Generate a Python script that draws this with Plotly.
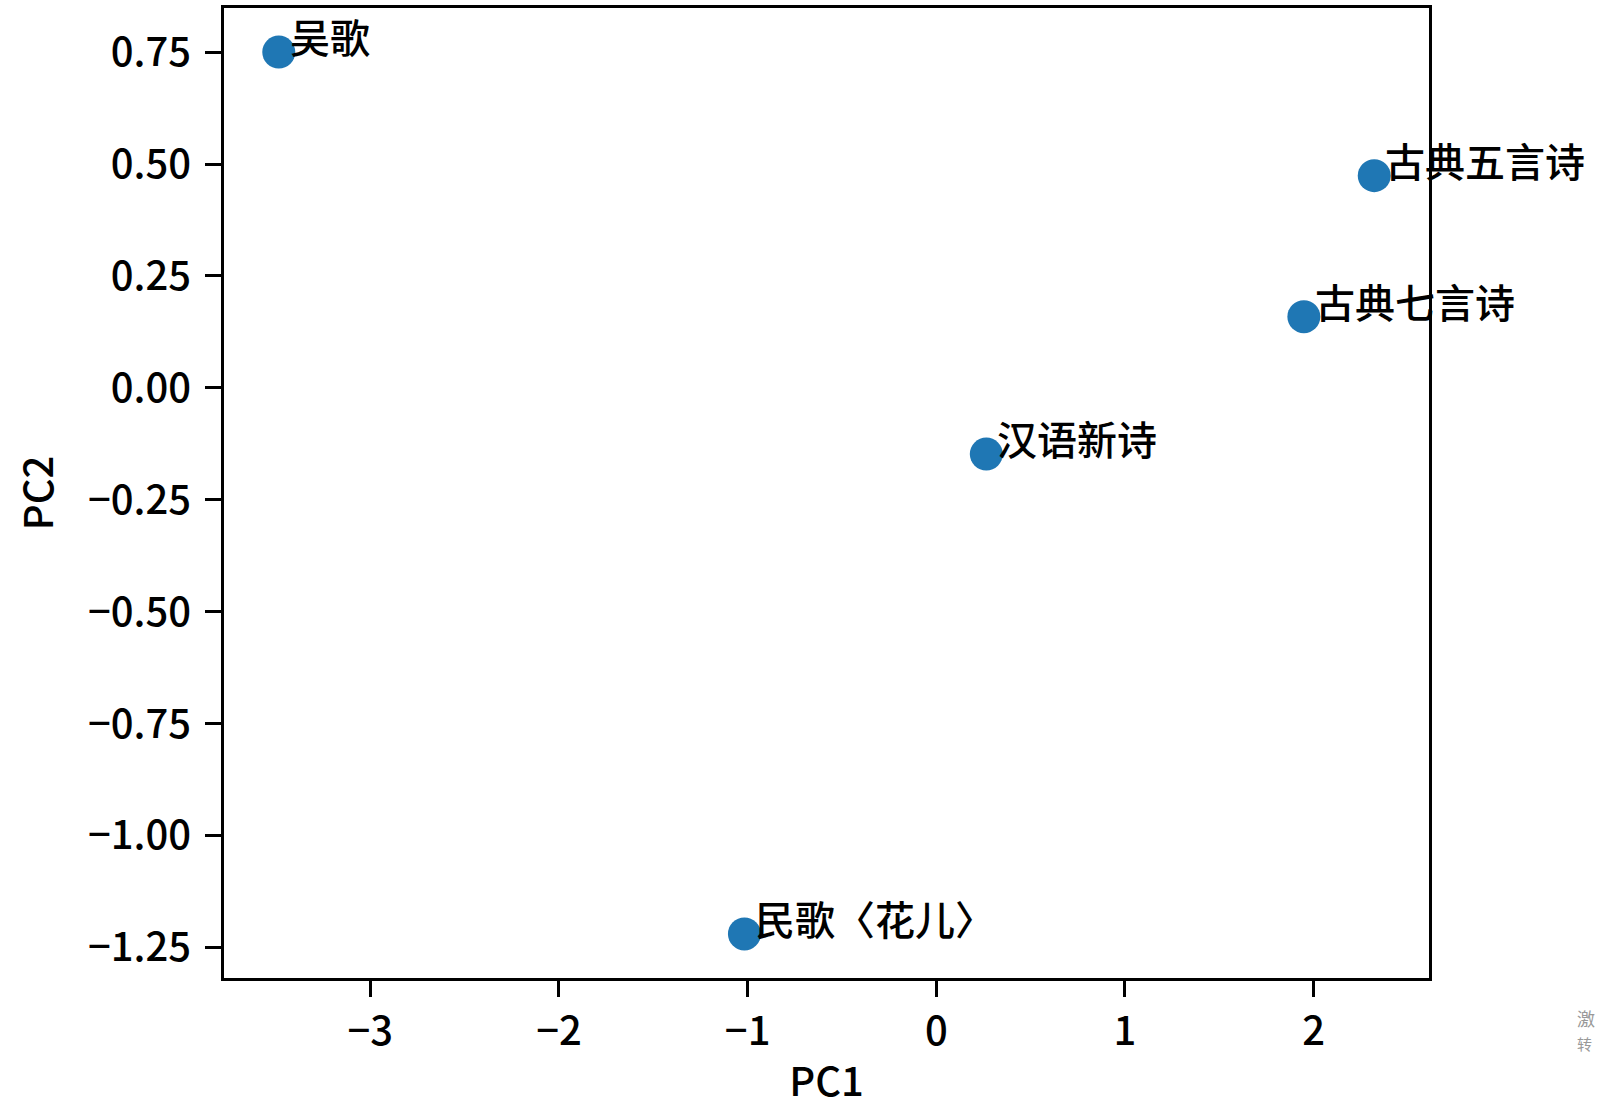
import plotly.graph_objects as go

names = ["吴歌", "古典五言诗", "古典七言诗", "汉语新诗", "民歌〈花儿〉"]
pc1 = [-3.485, 2.321, 1.948, 0.265, -1.017]
pc2 = [0.750, 0.474, 0.159, -0.148, -1.220]

xticks = [-3, -2, -1, 0, 1, 2]
xticklabels = ["−3", "−2", "−1", "0", "1", "2"]
yticks = [0.75, 0.5, 0.25, 0.0, -0.25, -0.5, -0.75, -1.0, -1.25]
yticklabels = ["0.75", "0.50", "0.25", "0.00", "−0.25", "−0.50", "−0.75", "−1.00", "−1.25"]

CJK = "Noto Sans CJK SC"

fig = go.Figure()
fig.add_trace(go.Scatter(
    x=pc1, y=pc2, mode="markers",
    marker=dict(size=33, color="#1f77b4"),
    showlegend=False, hoverinfo="skip",
))

for n, x, y in zip(names, pc1, pc2):
    fig.add_annotation(
        x=x, y=y, text=n, showarrow=False,
        xanchor="left", yanchor="bottom", xshift=9, yshift=-15,
        font=dict(family=CJK, size=40, color="black", weight=500),
    )

# partial watermark at right edge
fig.add_annotation(xref="paper", yref="paper", x=1.0, y=0.0, xanchor="left", yanchor="middle",
                   text="激", showarrow=False, xshift=146, yshift=-40,
                   font=dict(family=CJK, size=18, color="#999999"))
fig.add_annotation(xref="paper", yref="paper", x=1.0, y=0.0, xanchor="left", yanchor="middle",
                   text="转", showarrow=False, xshift=146, yshift=-65,
                   font=dict(family=CJK, size=15, color="#999999"))

xmin, xmax = min(pc1), max(pc1)
ymin, ymax = min(pc2), max(pc2)
mx = 0.05 * (xmax - xmin)
my = 0.05 * (ymax - ymin)

axis_common = dict(
    showline=True, linecolor="black", linewidth=3, mirror=True,
    showgrid=False, zeroline=False,
    ticks="outside", ticklen=16, tickwidth=3, tickcolor="black",
    tickfont=dict(family=CJK, size=40, color="black", weight=500),
)

fig.update_xaxes(
    range=[xmin - mx, xmax + mx], tickvals=xticks, ticktext=xticklabels,
    title=dict(text="PC1", font=dict(family=CJK, size=40, color="black", weight=500), standoff=12),
    **axis_common,
)
fig.update_yaxes(
    range=[ymin - my, ymax + my], tickvals=yticks, ticktext=yticklabels,
    ticklabelstandoff=6,
    title=dict(text="PC2", font=dict(family=CJK, size=40, color="black", weight=500), standoff=22),
    **axis_common,
)

fig.update_layout(
    width=1600, height=1113,
    margin=dict(l=224, r=171, t=5, b=135),
    plot_bgcolor="white", paper_bgcolor="white",
)

fig.write_html("out.html", config={"displayModeBar": False},
               post_script="document.body.style.margin='0px';")
